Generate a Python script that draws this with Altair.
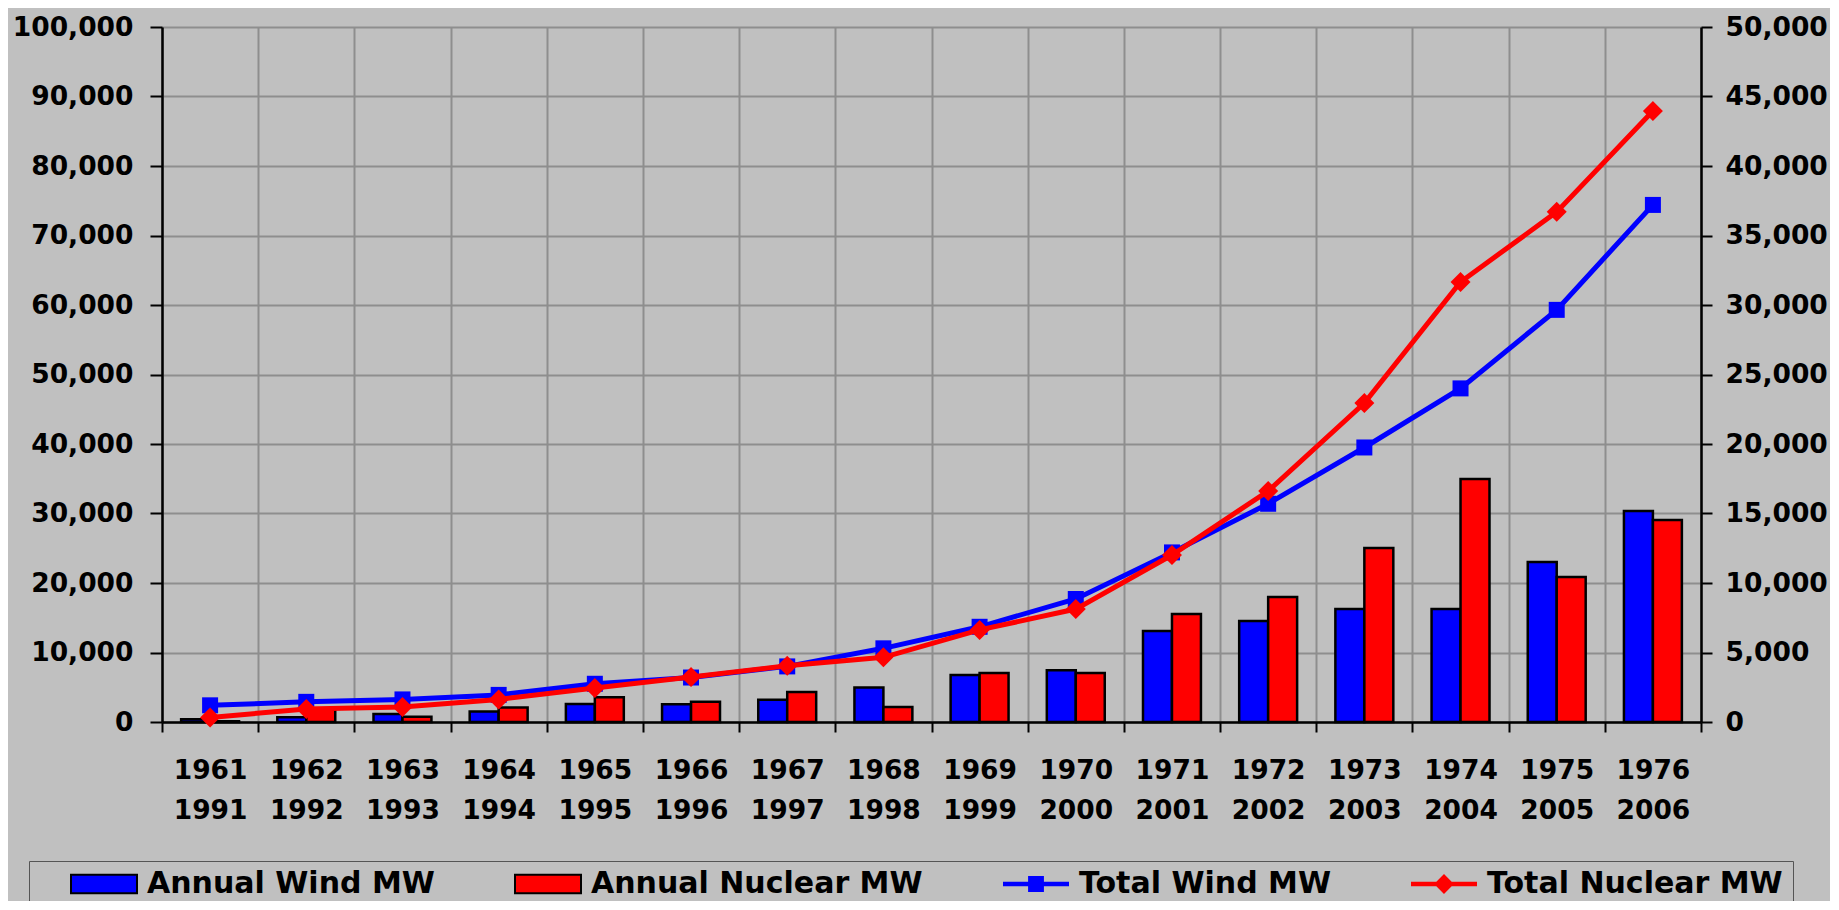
import altair as alt
import pandas as pd

# ---------------- data ----------------
nuclear_years = ["1961", "1962", "1963", "1964", "1965", "1966", "1967", "1968",
                 "1969", "1970", "1971", "1972", "1973", "1974", "1975", "1976"]
wind_years = ["1991", "1992", "1993", "1994", "1995", "1996", "1997", "1998",
              "1999", "2000", "2001", "2002", "2003", "2004", "2005", "2006"]
categories = [f"{a}|{b}" for a, b in zip(nuclear_years, wind_years)]

annual_wind = [200, 350, 580, 750, 1290, 1280, 1600, 2480,
               3380, 3730, 6550, 7270, 8130, 8130, 11510, 15180]
annual_nuclear = [60, 900, 380, 1050, 1780, 1450, 2150, 1080,
                  3530, 3530, 7770, 8990, 12520, 17480, 10430, 14530]
total_wind = [2400, 2900, 3250, 3900, 5500, 6400, 8000, 10600,
              13700, 17700, 24400, 31400, 39500, 48000, 59300, 74400]
total_nuclear = [650, 1870, 2160, 3250, 4900, 6470, 8100, 9300,
                 13250, 16250, 24030, 33240, 45900, 63300, 73400, 87900]

series_names = ["Annual Wind MW", "Annual Nuclear MW", "Total Wind MW", "Total Nuclear MW"]
series_colors = ["#0000FF", "#FF0000", "#0000FF", "#FF0000"]

left_ticks = [0, 10000, 20000, 30000, 40000, 50000, 60000, 70000, 80000, 90000, 100000]
right_ticks = [0, 5000, 10000, 15000, 20000, 25000, 30000, 35000, 40000, 45000, 50000]

rows_annual = []
for c, w, n in zip(categories, annual_wind, annual_nuclear):
    rows_annual.append({"cat": c, "series": series_names[0], "value": w})
    rows_annual.append({"cat": c, "series": series_names[1], "value": n})
df_annual = pd.DataFrame(rows_annual)

rows_total = []
for c, w, n in zip(categories, total_wind, total_nuclear):
    rows_total.append({"cat": c, "series": series_names[2], "value": w})
    rows_total.append({"cat": c, "series": series_names[3], "value": n})
df_total = pd.DataFrame(rows_total)

# ---------------- styles ----------------
FONT = "DejaVu Sans"
BG = "#C0C0C0"
GRID = "#8E8E8E"
AX_FS = 26.5

x_enc = alt.X(
    "cat:N", sort=categories,
    scale=alt.Scale(paddingInner=0, paddingOuter=0),
    axis=alt.Axis(
        title=None, orient="bottom", labelExpr="split(datum.label, '|')",
        labelAngle=0, labelBaseline="top", labelLineHeight=40, labelPadding=25,
        labelFont=FONT, labelFontWeight="bold", labelFontSize=AX_FS, labelColor="black",
        labelOverlap=False, tickBand="extent", tickSize=10, tickColor="black", tickWidth=2,
        domainColor="black", domainWidth=2.5, grid=True, gridColor=GRID, gridWidth=2,
    ),
)

y_left = alt.Y(
    "value:Q", scale=alt.Scale(domain=[0, 100000], nice=False),
    axis=alt.Axis(
        orient="left", values=left_ticks, format=",d", title=None,
        grid=True, gridColor=GRID, gridWidth=2,
        tickSize=12, tickColor="black", tickWidth=2,
        domainColor="black", domainWidth=2.5, labelPadding=17,
        labelFont=FONT, labelFontWeight="bold", labelFontSize=AX_FS, labelColor="black",
    ),
)

y_right = alt.Y(
    "value:Q", scale=alt.Scale(domain=[0, 50000], nice=False),
    axis=alt.Axis(
        orient="right", values=right_ticks, format=",d", title=None, grid=False,
        tickSize=11, tickColor="black", tickWidth=2,
        domainColor="black", domainWidth=2.5, labelPadding=13,
        labelFont=FONT, labelFontWeight="bold", labelFontSize=AX_FS, labelColor="black",
    ),
)

BAR_PATH = "M-1,-0.28H1V0.28H-1Z"
WIND_PATH = "M-1,-0.07H1V0.07H-1Z M-0.24,-0.24H0.24V0.24H-0.24Z"
NUC_PATH = "M-1,-0.07H1V0.07H-1Z M0,-0.3L0.3,0L0,0.3L-0.3,0Z"

sym_expr = ("datum.value === 'Total Wind MW' ? '" + WIND_PATH + "' : "
            "datum.value === 'Total Nuclear MW' ? '" + NUC_PATH + "' : '" + BAR_PATH + "'")
stroke_expr = ("(datum.value === 'Annual Wind MW' || datum.value === 'Annual Nuclear MW') "
               "? 'black' : 'transparent'")

legend_def = alt.Legend(
    orient="none", legendX=-133, legendY=834, direction="horizontal", columns=4,
    title="\u00a0", titleOrient="left", titlePadding=31, titleFont=FONT, titleFontSize=30,
    symbolType=alt.ExprRef(expr=sym_expr),
    symbolStrokeColor=alt.ExprRef(expr=stroke_expr),
    symbolSize=4356, symbolStrokeWidth=2, symbolOpacity=1, clipHeight=26,
    labelFont=FONT, labelFontWeight="bold", labelFontSize=30, labelColor="black",
    labelLimit=600, labelOffset=9, columnPadding=79,
    padding=10, strokeColor="#555555", fillColor=BG, cornerRadius=0,
)

# ---------------- layers ----------------
bars = alt.Chart(df_annual).mark_bar(stroke="black", strokeWidth=2.5).encode(
    x=x_enc,
    xOffset=alt.XOffset("series:N", sort=series_names[:2],
                        scale=alt.Scale(domain=series_names[:2], paddingOuter=0.66, paddingInner=0)),
    y=y_right,
    fill=alt.Fill("series:N", scale=alt.Scale(domain=series_names[:2], range=series_colors[:2]),
                  legend=None),
)

def total_layers(name, color, shape, size):
    base = alt.Chart(df_total).transform_filter(alt.datum.series == name)
    line = base.mark_line(strokeWidth=5, color=color).encode(x=x_enc, y=y_left)
    pts = base.mark_point(filled=True, opacity=1, shape=shape, size=size,
                          strokeWidth=0, color=color).encode(x=x_enc, y=y_left)
    return [line, pts]

legend_layer = alt.Chart(df_total).transform_filter("false").mark_point(
    filled=True, opacity=1).encode(
    x=x_enc, y=y_left,
    color=alt.Color("series:N", scale=alt.Scale(domain=series_names, range=series_colors),
                    legend=legend_def))

inner = alt.layer(*total_layers("Total Wind MW", "#0000FF", "square", 256),
                  *total_layers("Total Nuclear MW", "#FF0000", "diamond", 400),
                  legend_layer)

chart = alt.layer(bars, inner).resolve_scale(y="independent").properties(
    width=1539, height=695, background=BG,
    padding={"left": 154, "top": 19, "right": 129, "bottom": 179},
    autosize=alt.AutoSizeParams(type="none"),
).configure_view(stroke="transparent", fill=BG)

chart.save("out.html", embed_options={"renderer": "svg", "actions": False})
